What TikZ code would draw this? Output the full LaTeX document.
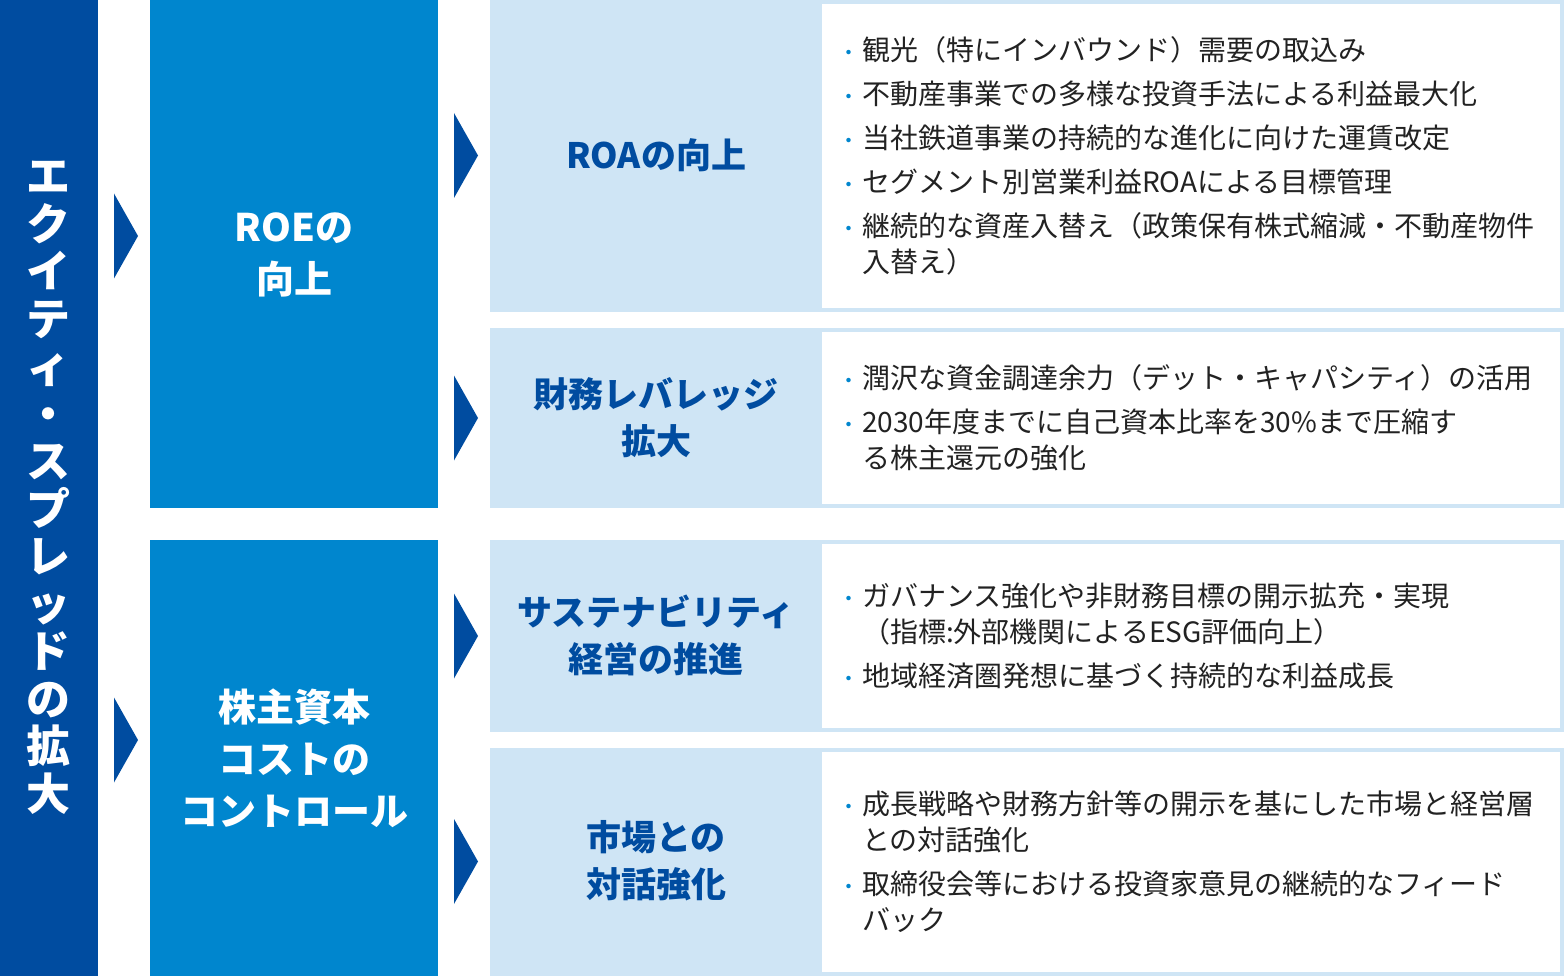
\documentclass[tikz,border=0pt]{standalone}
\usepackage{fontspec}
\setmainfont{Noto Sans CJK JP}
\usetikzlibrary{positioning}
\definecolor{dkblue}{RGB}{0,76,160}
\definecolor{midblue}{RGB}{0,134,206}
\definecolor{paleblue}{RGB}{207,229,245}
\definecolor{txtgray}{RGB}{34,34,34}
\newcommand{\bul}{\makebox[24pt][l]{\textcolor{midblue}{\fontsize{21}{21}\selectfont ・}}}
\newcommand{\cont}{\hspace*{24pt}}

\begin{document}
\begin{tikzpicture}[x=1pt,y=-1pt,
	box/.style={anchor=north west, inner sep=0pt, outer sep=0pt},
	lbl/.style={align=center, text=dkblue, font=\bfseries\fontsize{35}{47}\selectfont},
	head/.style={align=center, text=white, font=\bfseries\fontsize{38}{52}\selectfont},
	items/.style={anchor=west, align=left, inner sep=0pt, text=txtgray, font=\fontsize{28}{36}\selectfont}]
	\useasboundingbox (0,0) rectangle (1564,976);
	
	% columns
	\node[box, fill=dkblue, minimum width=98pt, minimum height=976pt] (eq) at (0,0) {};
	\node[box, fill=midblue, minimum width=288pt, minimum height=508pt] (roe) at (150,0) {};
	\node[box, fill=midblue, minimum width=288pt, minimum height=436pt] (coc) at (150,540) {};
	
	% rows
	\node[box, fill=paleblue, minimum width=1074pt, minimum height=312pt] (roa) at (490,0) {};
	\node[box, fill=white, minimum width=738pt, minimum height=304pt] (roaw) at (822,4) {};
	\node[box, fill=paleblue, minimum width=1074pt, minimum height=180pt] (lev) at (490,328) {};
	\node[box, fill=white, minimum width=738pt, minimum height=172pt] (levw) at (822,332) {};
	\node[box, fill=paleblue, minimum width=1074pt, minimum height=192pt] (sus) at (490,540) {};
	\node[box, fill=white, minimum width=738pt, minimum height=184pt] (susw) at (822,544) {};
	\node[box, fill=paleblue, minimum width=1074pt, minimum height=228pt] (mkt) at (490,748) {};
	\node[box, fill=white, minimum width=738pt, minimum height=220pt] (mktw) at (822,752) {};
	
	\foreach \x/\y in {114/236, 114/740, 454/155.5, 454/418, 454/636, 454/861.5}
		\fill[dkblue] (\x,\y-42.5) -- (\x+24,\y) -- (\x,\y+42.5) -- cycle;
	
	\node[text=white, align=center, font=\bfseries\fontsize{44}{47.5}\selectfont] (eqt) at (eq.center)
		{エ\\ク\\イ\\テ\\ィ\\・\\ス\\プ\\レ\\ッ\\ド\\の\\拡\\大};
	\node[head] (roet) at (294,255) {ROEの\\向上};
	\node[head] (coct) at (294,758) {株主資本\\コストの\\コントロール};
	
	\node[lbl] (roat) at (656,155) {ROAの向上};
	\node[lbl] (levt) at (656,418) {財務レバレッジ\\拡大};
	\node[lbl] (sust) at (656,635) {サステナビリティ\\経営の推進};
	\node[lbl] (mktt) at (656,861) {市場との\\対話強化};
	
	\node[items, right=16pt of roaw.west] (roai) {%
		\bul 観光（特にインバウンド）需要の取込み\\[8pt]
		\bul 不動産事業での多様な投資手法による利益最大化\\[8pt]
		\bul 当社鉄道事業の持続的な進化に向けた運賃改定\\[8pt]
		\bul セグメント別営業利益ROAによる目標管理\\[8pt]
		\bul 継続的な資産入替え（政策保有株式縮減・不動産物件\\
		\cont 入替え）};
	\node[items, right=16pt of levw.west] (levi) {%
		\bul 潤沢な資金調達余力（デット・キャパシティ）の活用\\[8pt]
		\bul 2030年度までに自己資本比率を30\%まで圧縮す\\
		\cont る株主還元の強化};
	\node[items, right=16pt of susw.west] (susi) {%
		\bul ガバナンス強化や非財務目標の開示拡充・実現\\
		\cont （指標:外部機関によるESG評価向上）\\[8pt]
		\bul 地域経済圏発想に基づく持続的な利益成長};
	\node[items, right=16pt of mktw.west] (mkti) {%
		\bul 成長戦略や財務方針等の開示を基にした市場と経営層\\
		\cont との対話強化\\[8pt]
		\bul 取締役会等における投資家意見の継続的なフィード\\
		\cont バック};
\end{tikzpicture}
\end{document}
